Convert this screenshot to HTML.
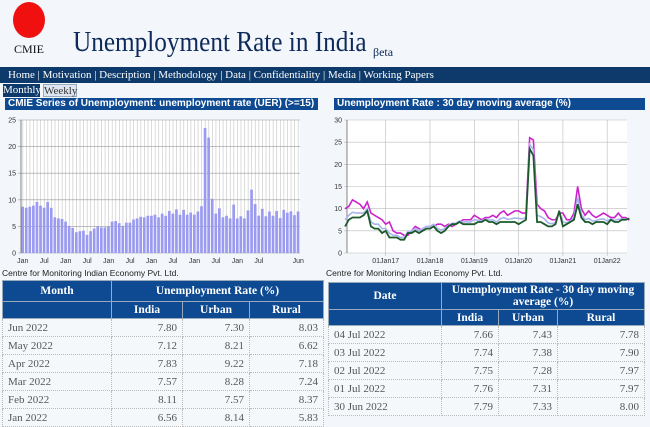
<!DOCTYPE html>
<html><head><meta charset="utf-8">
<style>
body{margin:0;width:650px;height:426px;overflow:hidden;background:#f3f6fa;font-family:"Liberation Serif",serif;position:relative}
.abs{position:absolute}
.nav{left:0;top:67px;width:650px;height:16px;background:#0d3a6a;color:#fff;font-size:11px;line-height:16px;padding-left:8px;box-sizing:border-box;white-space:nowrap}
.hdr{height:12px;background:#0d4a92;color:#fff;font:bold 10px "Liberation Sans",sans-serif;line-height:12px;padding-left:3px;box-sizing:border-box;white-space:nowrap}
.src{font:8.5px "Liberation Sans",sans-serif;color:#222}
table{border-collapse:collapse;font-size:11px;color:#555}
th{background:#0d4a92;color:#fff;font-weight:bold;font-size:11.5px;border:1px solid #9ab;text-align:center;padding:0}
td{border:1px dotted #bbb;height:17px;padding:0 5px;text-align:right;background:#f5f8fb}
td:first-child{text-align:left}
</style></head><body>
<div class="abs" style="left:13px;top:2px;width:32px;height:36px;border-radius:50%;background:#f01010"></div>
<div class="abs" style="left:14px;top:42px;font-size:12px;color:#111">CMIE</div>
<div class="abs" style="left:73px;top:26px;font-size:29px;color:#0d2a5a;white-space:nowrap;transform:scaleX(0.87);transform-origin:0 0">Unemployment Rate in India</div>
<div class="abs" style="left:373px;top:45px;font-size:12px;color:#0d2a5a">βeta</div>
<div class="abs nav"><span>Home | Motivation | Description | Methodology | Data | Confidentiality | Media | Working Papers</span></div>
<div class="abs" style="left:3px;top:84px;width:37px;height:13px;background:#0d3a6a;color:#fff;font-size:11px;line-height:13px;text-align:center">Monthly</div>
<div class="abs" style="left:43px;top:84px;width:34px;height:13px;background:#dde6f0;border:1px solid #9ab;box-sizing:border-box;color:#333;font-size:11px;line-height:12px;text-align:center">Weekly</div>
<div class="abs hdr" style="left:5px;top:98px;width:313px">CMIE Series of Unemployment: unemployment rate (UER) (&gt;=15)</div>
<div class="abs hdr" style="left:334px;top:98px;width:311px">Unemployment Rate : 30 day moving average (%)</div>
<svg class="abs" style="left:0;top:110px" width="650" height="160" id="charts"></svg>
<div class="abs src" style="left:2px;top:268px">Centre for Monitoring Indian Economy Pvt. Ltd.</div>
<div class="abs src" style="left:326px;top:268px">Centre for Monitoring Indian Economy Pvt. Ltd.</div>

<table class="abs" style="left:2px;top:280px;width:322px">
<tr><th style="width:108px;height:20px">Month</th><th colspan="3">Unemployment Rate (%)</th></tr>
<tr><th style="height:16px"></th><th style="width:70px">India</th><th style="width:66px">Urban</th><th>Rural</th></tr>
<tr><td>Jun 2022</td><td>7.80</td><td>7.30</td><td>8.03</td></tr>
<tr><td>May 2022</td><td>7.12</td><td>8.21</td><td>6.62</td></tr>
<tr><td>Apr 2022</td><td>7.83</td><td>9.22</td><td>7.18</td></tr>
<tr><td>Mar 2022</td><td>7.57</td><td>8.28</td><td>7.24</td></tr>
<tr><td>Feb 2022</td><td>8.11</td><td>7.57</td><td>8.37</td></tr>
<tr><td>Jan 2022</td><td>6.56</td><td>8.14</td><td>5.83</td></tr>
</table>

<table class="abs" style="left:328px;top:282px;width:317px">
<tr><th style="width:112px;height:26px">Date</th><th colspan="3" style="line-height:12px">Unemployment Rate - 30 day moving average (%)</th></tr>
<tr><th style="height:15px"></th><th style="width:56px">India</th><th style="width:58px">Urban</th><th>Rural</th></tr>
<tr><td>04 Jul 2022</td><td>7.66</td><td>7.43</td><td>7.78</td></tr>
<tr><td>03 Jul 2022</td><td>7.74</td><td>7.38</td><td>7.90</td></tr>
<tr><td>02 Jul 2022</td><td>7.75</td><td>7.28</td><td>7.97</td></tr>
<tr><td>01 Jul 2022</td><td>7.76</td><td>7.31</td><td>7.97</td></tr>
<tr><td>30 Jun 2022</td><td>7.79</td><td>7.33</td><td>8.00</td></tr>
</table>

<script>
const monthlyValues=[8.7,8.5,8.7,8.9,9.6,8.9,8.5,9.6,8.5,6.7,6.5,6.4,
5.9,5.1,4.7,3.9,4.1,4.2,3.4,4.1,4.6,5.0,4.8,4.8,
5.0,5.9,6.0,5.6,5.1,5.7,5.7,6.3,6.5,6.8,6.7,7.0,
7.0,7.2,6.7,7.4,7.0,7.9,7.4,8.2,7.2,8.1,7.2,7.6,
7.2,7.8,8.8,23.5,21.7,10.2,7.4,8.4,6.7,7.0,6.5,9.1,
6.5,6.9,6.5,8.0,11.9,9.2,7.0,8.3,6.9,7.8,7.0,7.9,
6.56,8.11,7.57,7.83,7.12,7.80];
const monthlyTickLabels=["Jan","Jul","Jan","Jul","Jan","Jul","Jan","Jul","Jan","Jul","Jan","Jul","Jun"];
const monthlyTickIdx=[0,6,12,18,24,30,36,42,48,54,60,66,77];
const yTicks=[0,5,10,15,20,25];
const yTicksR=[0,5,10,15,20,25,30];
const urbanMA=[10,10.5,12,11.5,11,10,11.5,9,8.5,8,7.5,6.5,7,5,4.5,4.5,4,4,5,6,5.5,5,5.5,5.5,6,6.5,6.5,6,6.5,6,6.5,7,7.5,7.5,7.5,8.5,8,7.5,8,8,8.5,8,9,9.5,8.5,9,9.5,9.5,9,9,26,25.5,11,10,9.5,8,7.5,7.5,9,9,7.5,7.5,9,15,10,8.5,9.5,8.5,8,8.5,9,8.5,8,8,9,8,8,7.4];
const ruralMA=[6,7.5,8,8,8,8.5,9.5,6,5.5,5.5,4.5,5,3.5,3.5,3.5,3,3,4.5,4.5,5,4.5,5,5.5,5.5,6,5,4.5,5,6,6.5,6.5,7,6.5,6.5,6.5,6.5,7,7,7.5,7,7,6.5,7,7,7,7,7,6.5,7,7.5,23.5,22,7,7,6.5,6,6,6.5,9.5,6,6.5,7,7.5,11,8,7,7,6.5,7,7,7,6.5,7.5,7,7,7.5,7.5,7.8];
const indiaMA=[7.5,8.5,9.2,9,9,9,10,7,6.5,6.5,5.5,5.5,4.5,4,4,3.5,3.5,4.8,5,5.5,5,5.5,6,6,6.5,5.5,5.2,5.5,6.2,6.7,6.7,7.2,7,7,7,7.5,7.4,7.2,7.7,7.4,7.5,7,7.7,8,7.6,7.7,7.9,7.8,7.7,8,24.5,23.3,8.5,8.2,7.7,6.8,6.6,6.9,9.3,7,6.8,7.2,8,12.5,8.7,7.5,7.8,7.2,7.3,7.6,7.7,7.2,7.7,7.3,7.6,7.6,7.7,7.7];

const NS="http://www.w3.org/2000/svg";
const svg=document.getElementById('charts');
const OY=110;
function el(t,a){const e=document.createElementNS(NS,t);for(const k in a)e.setAttribute(k,a[k]);svg.appendChild(e);return e;}
function yL(v){return 253-OY-v*133/25;}
function yR(v){return 253-OY-v*133/30;}
const L0=21,L1=300,bw=(L1-L0)/monthlyValues.length;
function xL(i){return L0+i*bw;}
function xR(t){return 341.4+t*44.3/12;}

el('rect',{x:L0,y:yL(25),width:L1-L0,height:yL(0)-yL(25),fill:'#fff'});
for(let i=0;i<monthlyValues.length;i++){const g=el('line',{x1:xL(i)+bw/2,x2:xL(i)+bw/2,y1:yL(25),y2:yL(0),stroke:'#ccc','stroke-width':0.7});
}
yTicks.forEach(v=>{const l=el('line',{x1:L0-3,x2:L1,y1:yL(v),y2:yL(v),stroke:'#999','stroke-width':0.6});

const t=el('text',{x:L0-5,y:yL(v)+2.5,'font-size':7,'text-anchor':'end',fill:'#333','font-family':'Liberation Sans'});t.textContent=v;
});
monthlyValues.forEach((v,i)=>{const r=el('rect',{x:xL(i)+0.3,y:yL(v),width:bw-0.9,height:yL(0)-yL(v),fill:'#9a9af0'});
});
el('line',{x1:L0,x2:L0,y1:yL(25),y2:yL(0),stroke:'#666','stroke-width':0.8});
monthlyTickIdx.forEach((i,k)=>{const t=el('text',{x:xL(i)+bw/2,y:153,'font-size':7,'text-anchor':'middle',fill:'#333','font-family':'Liberation Sans'});t.textContent=monthlyTickLabels[k];
});

const R0=347,R1=627;
el('rect',{x:R0,y:yR(30),width:R1-R0,height:yR(0)-yR(30),fill:'#fff'});
yTicksR.forEach(v=>{const l=el('line',{x1:R0-3,x2:R1,y1:yR(v),y2:yR(v),stroke:'#bbb','stroke-width':0.6});

const t=el('text',{x:R0-5,y:yR(v)+2.5,'font-size':7,'text-anchor':'end',fill:'#333','font-family':'Liberation Sans'});t.textContent=v;
});
const yearLabels=["01Jan17","01Jan18","01Jan19","01Jan20","01Jan21","01Jan22"];
yearLabels.forEach((s,k)=>{const x=xR(12*(k+1));
const l=el('line',{x1:x,x2:x,y1:yR(30),y2:yR(0)+3,stroke:'#bbb','stroke-width':0.6});

const t=el('text',{x:x,y:153,'font-size':7,'text-anchor':'middle',fill:'#333','font-family':'Liberation Sans'});t.textContent=s;
});
el('line',{x1:R0,x2:R0,y1:yR(30),y2:yR(0),stroke:'#666','stroke-width':0.8});
function line(arr,color,w,name){const p=el('polyline',{points:arr.map((v,i)=>xR(i+1)+','+yR(v)).join(' '),fill:'none',stroke:color,'stroke-width':w});
}
line(urbanMA,'#cc22cc',1.6,'urban-line');
line(indiaMA,'#a8b4ee',1.6,'india-line');
line(ruralMA,'#1a5a2a',1.8,'rural-line');
</script>
</body></html>
